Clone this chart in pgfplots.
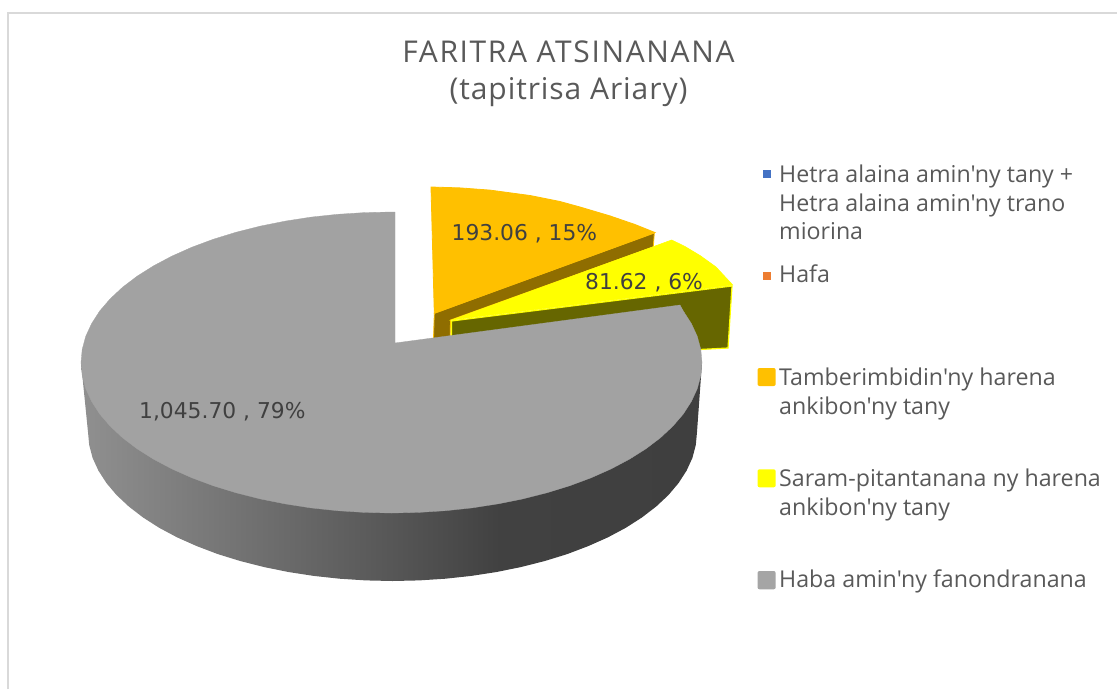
\documentclass[border=0pt]{standalone}
\usepackage{pgfplots}
\pgfplotsset{compat=1.18}
\usepackage{fontspec}
\setmainfont[Ligatures=TeXOff]{Open Sans}
\newfontfamily\labfont{DejaVu Sans}
\definecolor{txt}{HTML}{595959}
\definecolor{lab}{HTML}{404040}
\definecolor{frame}{HTML}{D9D9D9}
\definecolor{gtop}{HTML}{A2A2A2}
\definecolor{gleg}{HTML}{A5A5A5}
\definecolor{org}{HTML}{FFC000}
\definecolor{orgd}{HTML}{8F6D00}
\definecolor{yel}{HTML}{FFFF00}
\definecolor{yeld}{HTML}{666600}
\definecolor{blu}{HTML}{4472C4}
\definecolor{ora}{HTML}{ED7D31}
\definecolor{c90}{HTML}{909090}
\definecolor{c55}{HTML}{555555}
\definecolor{c40}{HTML}{414141}
\definecolor{c3e}{HTML}{3F3F3F}
\pgfdeclarehorizontalshading{sideshade}{100bp}{
  color(0bp)=(c90); color(25bp)=(c90); color(50.7bp)=(c55); color(58.7bp)=(c40); color(75bp)=(c3e); color(100bp)=(c3e)}
\begin{document}
\begin{tikzpicture}
\begin{axis}[
  at={(0pt,0pt)}, anchor=south west,
  width=1117pt, height=689pt, scale only axis,
  xmin=0, xmax=1117, ymin=0, ymax=689, y dir=reverse,
  hide axis, clip=true]
% invisible page corners: keeps the page the size of the whole chart area
\addplot[draw=none] coordinates {(0,0) (1117,0) (1117,689) (0,689)} -- cycle;
% chart frame
\addplot[draw=frame, line width=1.5pt] coordinates {(8,689) (8,13) (1117,13)};
% orange cut face
\addplot[fill=orgd, draw=org, line width=0.8pt] coordinates {(434.3,313.3) (654.3,233) (653.3,247) (450.5,320) (450,345) (433.3,345)} -- cycle;
% orange top face
\addplot[fill=org, draw=org, line width=0.8pt] coordinates {(431,187) (460,187.9) (490,190.1) (530,195.5) (560,201.5) (580,207) (610,215.9) (635,224.5) (655,232.5) (434.3,313.3)} -- cycle;
% yellow cut face
\addplot[fill=yeld, draw=yel, line width=1.2pt] coordinates {(451.5,321) (732,286) (728,348) (690,350) (451.5,345)} -- cycle;
% yellow top face
\addplot[fill=yel, draw=yel, line width=0.6pt] coordinates {(451.5,320) (671.7,240) (685,246.5) (700,255.5) (716,267) (732.7,285)} -- cycle;
% grey side
\addplot[shading=sideshade, draw=none] coordinates {(702,362.5) (697,432) (695.8,445) (692.4,457.9) (686.6,470.6) (678.6,483) (668.5,495) (656.2,506.5) (641.9,517.5) (625.8,527.8) (607.8,537.4) (588.2,546.1) (567.2,554.1) (544.8,561) (521.2,567) (496.6,572) (471.3,575.9) (445.4,578.7) (419.1,580.4) (392.5,581) (365.9,580.4) (339.6,578.7) (313.7,575.9) (288.4,572) (263.8,567) (240.2,561) (217.8,554.1) (196.8,546.1) (177.2,537.4) (159.2,527.8) (143.1,517.5) (128.8,506.5) (116.5,495) (106.4,483) (98.4,470.6) (92.6,457.9) (89.2,445) (88,432) (81,362.5)} -- cycle;
% grey top
\addplot[fill=gtop, draw=gtop, line width=0.3pt] coordinates {(395,343) (680,305) (683.3,311) (691.4,323.6) (697.3,336.4) (700.8,349.4) (702,362.5) (700.8,375.6) (697.3,388.6) (691.4,401.4) (683.3,414) (672.9,426.1) (660.4,437.8) (645.9,448.8) (629.4,459.2) (611.1,468.9) (591.1,477.8) (569.6,485.8) (546.8,492.8) (522.7,498.9) (497.7,503.9) (471.9,507.9) (445.4,510.7) (418.6,512.4) (391.5,513) (364.4,512.4) (337.6,510.7) (311.1,507.9) (285.3,503.9) (260.3,498.9) (236.2,492.8) (213.4,485.8) (191.9,477.8) (171.9,468.9) (153.6,459.2) (137.1,448.8) (122.6,437.8) (110.1,426.1) (99.7,414) (91.6,401.4) (85.7,388.6) (82.2,375.6) (81,362.5) (82.2,349.4) (85.7,336.4) (91.6,323.6) (99.7,311) (110.1,298.9) (122.6,287.2) (137.1,276.2) (153.6,265.8) (171.9,256.1) (191.9,247.2) (213.4,239.2) (236.2,232.2) (260.3,226.1) (285.3,221.1) (311.1,217.1) (337.6,214.3) (364.4,212.6) (391.5,212) (395,212)} -- cycle;
% legend keys
\addplot[fill=blu, draw=none] coordinates {(762.7,170) (770.7,170) (770.7,178) (762.7,178)} -- cycle;
\addplot[fill=ora, draw=none] coordinates {(762.7,271.7) (770.7,271.7) (770.7,279.7) (762.7,279.7)} -- cycle;
\addplot[fill=org, draw=none, rounded corners=2pt] coordinates {(757.5,368) (775.7,368) (775.7,386) (757.5,386)} -- cycle;
\addplot[fill=yel, draw=none, rounded corners=2pt] coordinates {(757.5,469.3) (775.7,469.3) (775.7,487.3) (757.5,487.3)} -- cycle;
\addplot[fill=gleg, draw=none, rounded corners=2pt] coordinates {(757.5,571) (775.7,571) (775.7,589.3) (757.5,589.3)} -- cycle;
% title
\node[anchor=base, text=txt, font=\fontsize{30}{34}\selectfont\addfontfeatures{LetterSpace=5.5}, inner sep=0pt] at (axis cs:568.5,62.5) {FARITRA ATSINANANA};
\node[anchor=base, text=txt, font=\fontsize{30}{34}\selectfont\addfontfeatures{LetterSpace=3.1}, inner sep=0pt] at (axis cs:568.5,99) {(tapitrisa Ariary)};
% legend text
\node[anchor=base west, text=txt, font=\fontsize{23.2}{27}\selectfont, inner sep=0pt] at (axis cs:779,182.3) {Hetra alaina amin'ny tany +};
\node[anchor=base west, text=txt, font=\fontsize{23.2}{27}\selectfont, inner sep=0pt] at (axis cs:779,211) {Hetra alaina amin'ny trano};
\node[anchor=base west, text=txt, font=\fontsize{23.2}{27}\selectfont, inner sep=0pt] at (axis cs:779,239.3) {miorina};
\node[anchor=base west, text=txt, font=\fontsize{23.2}{27}\selectfont, inner sep=0pt] at (axis cs:779,282.7) {Hafa};
\node[anchor=base west, text=txt, font=\fontsize{23.2}{27}\selectfont, inner sep=0pt] at (axis cs:779,385) {Tamberimbidin'ny harena};
\node[anchor=base west, text=txt, font=\fontsize{23.2}{27}\selectfont, inner sep=0pt] at (axis cs:779,414) {ankibon'ny tany};
\node[anchor=base west, text=txt, font=\fontsize{23.2}{27}\selectfont, inner sep=0pt] at (axis cs:779,486) {Saram-pitantanana ny harena};
\node[anchor=base west, text=txt, font=\fontsize{23.2}{27}\selectfont, inner sep=0pt] at (axis cs:779,515) {ankibon'ny tany};
\node[anchor=base west, text=txt, font=\fontsize{23.2}{27}\selectfont, inner sep=0pt] at (axis cs:779,587.7) {Haba amin'ny fanondranana};
% data labels
\node[anchor=base west, text=lab, font=\labfont\fontsize{21.8}{26}\selectfont, inner sep=0pt] at (axis cs:451.5,240) {193.06 , 15\%};
\node[anchor=base west, text=lab, font=\labfont\fontsize{21.8}{26}\selectfont, inner sep=0pt] at (axis cs:585,289) {81.62 , 6\%};
\node[anchor=base west, text=lab, font=\labfont\fontsize{21.8}{26}\selectfont, inner sep=0pt] at (axis cs:139,418) {1,045.70 , 79\%};
\end{axis}
\end{tikzpicture}
\end{document}
